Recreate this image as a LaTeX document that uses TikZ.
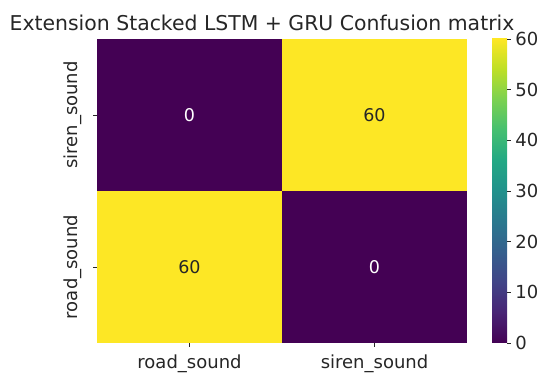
\documentclass[tikz,border=0pt]{standalone}
\usepackage{fontspec}
\setmainfont{DejaVu Sans}
\usepackage{xcolor}
\usepackage{tikz}
\usetikzlibrary{positioning}
\definecolor{virroxo}{HTML}{440154}
\definecolor{vir1}{HTML}{482475}
\definecolor{vir2}{HTML}{414487}
\definecolor{vir3}{HTML}{355F8D}
\definecolor{vir4}{HTML}{2A788E}
\definecolor{vir5}{HTML}{21918C}
\definecolor{vir6}{HTML}{22A884}
\definecolor{vir7}{HTML}{44BF70}
\definecolor{vir8}{HTML}{7AD151}
\definecolor{vir9}{HTML}{BDDF26}
\definecolor{viramarelo}{HTML}{FDE725}
\definecolor{cortexto}{RGB}{38,38,38}
\pgfdeclareverticalshading{viridis}{100bp}{color(0bp)=(virroxo); color(25bp)=(virroxo);
  color(30bp)=(vir1); color(35bp)=(vir2); color(40bp)=(vir3); color(45bp)=(vir4);
  color(50bp)=(vir5); color(55bp)=(vir6); color(60bp)=(vir7); color(65bp)=(vir8);
  color(70bp)=(vir9); color(75bp)=(viramarelo); color(100bp)=(viramarelo)}

\begin{document}
\begin{tikzpicture}[
  x=1pt, y=-1pt,
  celula/.style={rectangle, inner sep=0pt, minimum width=185pt, minimum height=152pt,
                 font=\fontsize{17.5}{20}\selectfont},
  baixo/.style={celula, fill=virroxo, text=white},
  alto/.style={celula, fill=viramarelo, text=cortexto},
  rotulo/.style={inner sep=0pt, text=cortexto, font=\fontsize{18}{21}\selectfont},
  titulo/.style={inner sep=0pt, text=cortexto, font=\fontsize{20.4}{24}\selectfont},
  marca/.style={draw=cortexto, line width=0.8pt}
]
  \useasboundingbox (0,0) rectangle (558,377);
  \node[titulo, anchor=base] (tit) at (262,30.5) {Extension Stacked LSTM + GRU Confusion matrix};

  % matriz
  \node[baixo] (c11) at (189.5,115) {0};
  \node[alto]  (c12) at (374.5,115) {60};
  \node[alto]  (c21) at (189.5,267) {60};
  \node[baixo] (c22) at (374.5,267) {0};

  % eixos
  \draw[marca] (c11.west) -- ++(-4,0);
  \draw[marca] (c21.west) -- ++(-4,0);
  \draw[marca] (c21.south) -- ++(0,4);
  \draw[marca] (c22.south) -- ++(0,4);
  \node[rotulo, rotate=90, anchor=south] (ysiren) at (82,115) {siren\_sound};
  \node[rotulo, rotate=90, anchor=south] (yroad) at (82,267) {road\_sound};
  \node[rotulo, anchor=base] (xroad) at (189.5,369) {road\_sound};
  \node[rotulo, anchor=base] (xsiren) at (374.5,369) {siren\_sound};

  % barra de cores
  \shade[shading=viridis] (492,39) rectangle (507,343);
  \foreach \v in {0,10,...,60}
    \draw[marca] (507,{343-\v*5.0667}) -- ++(4,0)
      node[rotulo, anchor=west, xshift=4pt] (cb\v) {\v};
\end{tikzpicture}
\end{document}
